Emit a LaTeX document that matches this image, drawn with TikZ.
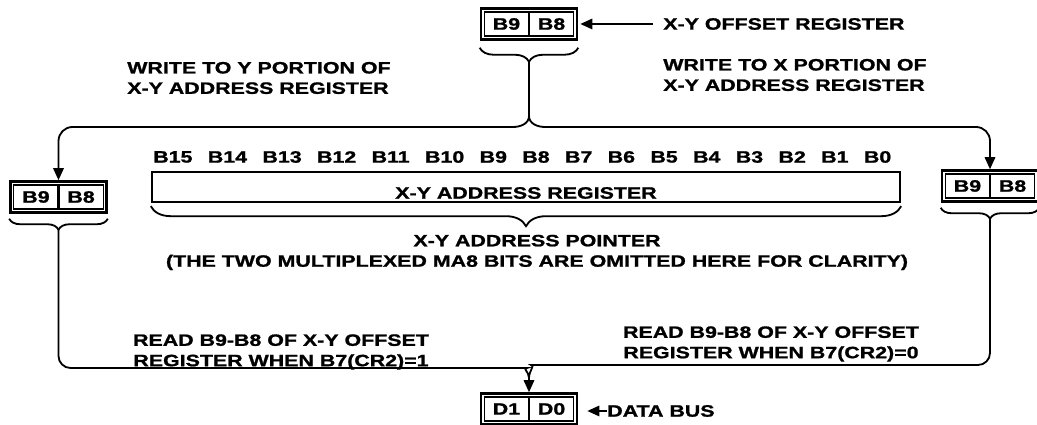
\documentclass[tikz,border=0pt]{standalone}
\usepackage{fontspec}
\newfontfamily\drawfont[FakeStretch=1.3,FakeBold=1.2]{Liberation Sans}
\usetikzlibrary{arrows.meta,positioning,fit,calc,decorations.pathreplacing}

% two bit cells in a heavy frame
\newcommand{\bitpair}[4]{%
  \node[cell,anchor=east] (#1l) at #2 {#3};
  \node[cell,anchor=west] (#1r) at #2 {#4};
  \node[frame,fit=(#1l)(#1r)] (#1) {};
}

\begin{document}
\begin{tikzpicture}[x=0.25mm,y=0.25mm,
  lbl/.style={font=\drawfont\bfseries\fontsize{11.7}{14.5}\selectfont,inner sep=0pt},
  cell/.style={lbl,draw,line width=0.8pt,minimum width=11mm,minimum height=6mm},
  frame/.style={draw,line width=1.7pt,inner sep=0.75mm},
  wire/.style={line width=1.3pt},
  arr/.style={wire,-{Triangle[length=3mm,width=2.6mm]}},
  brace/.style={wire,decorate,decoration={brace,amplitude=#1}}]
  \useasboundingbox (0,0) rectangle (1037,425);

  \bitpair{off}{(529,401)}{B9}{B8}
  \bitpair{lpair}{(58.5,228)}{B9}{B8}
  \bitpair{rpair}{(990,239)}{B9}{B8}
  \bitpair{dpair}{(529,16)}{D1}{D0}

  \draw[brace=3.5mm] ([yshift=-1.75mm]off.south east) -- ([yshift=-1.75mm]off.south west);
  \draw[brace=2.75mm] ([yshift=-1.25mm]lpair.south east) -- ([yshift=-1.25mm]lpair.south west);
  \draw[brace=2.75mm] ([yshift=-1.25mm]rpair.south east) -- ([yshift=-1.25mm]rpair.south west);
  \coordinate (offtip) at ([yshift=-5.25mm]off.south);
  \coordinate (ltip) at ([yshift=-4mm]lpair.south);
  \coordinate (rtip) at ([yshift=-4mm]rpair.south);

  % address register
  \node[frame,inner sep=0pt,minimum width=187mm,minimum height=7.5mm] (reg) at (526,238) {};
  \node[lbl] (regtxt) at ([yshift=-1.5mm]reg.center) {X-Y ADDRESS REGISTER};
  \draw[brace=5mm] ([yshift=-0.75mm]reg.south east) -- ([yshift=-0.75mm]reg.south west);
  \node[lbl,anchor=west] (b15) at (153,268) {B15};
  \foreach \i [remember=\i as \j (initially 15)] in {14,...,0}
    \node[lbl,right=3.7mm of b\j] (b\i) {B\i};

  \node[lbl,anchor=west] (offlbl) at (663,401) {X-Y OFFSET REGISTER};
  \draw[arr] ([xshift=-2.5mm]offlbl.west) -- ($(offlbl.west -| off.east)+(0.5mm,0)$);
  \node[lbl,align=left,anchor=west] (wy) at (127,347) {WRITE TO Y PORTION OF\\X-Y ADDRESS REGISTER};
  \node[lbl,align=left,anchor=west] (wx) at (663,350) {WRITE TO X PORTION OF\\X-Y ADDRESS REGISTER};
  \node[lbl,align=center] (ptr) at (537,172.5) {X-Y ADDRESS POINTER\\(THE TWO MULTIPLEXED MA8 BITS ARE OMITTED HERE FOR CLARITY)};
  \node[lbl,align=center] (rd1) at (281,73) {READ B9-B8 OF X-Y OFFSET\\REGISTER WHEN B7(CR2)=1};
  \node[lbl,align=center] (rd0) at (771,81) {READ B9-B8 OF X-Y OFFSET\\REGISTER WHEN B7(CR2)=0};

  % write paths
  \coordinate (split) at (529,309);
  \draw[arr] (offtip) -- (split) to[out=-90,in=0] ++(-16,-11) [rounded corners=3.5mm] -| (lpair.north);
  \draw[arr] (split) to[out=-90,in=180] ++(16,-11) [rounded corners=3.5mm] -| (rpair.north);

  % read paths
  \coordinate (merge) at (529,47);
  \draw[wire] (ltip) [rounded corners=3mm] |- (515,57) [sharp corners] to[out=0,in=90] (merge);
  \draw[wire] (rtip) [rounded corners=3mm] |- (543,60) [sharp corners] to[out=180,in=90] (merge);
  \draw[arr] (merge) -- (dpair.north);

  \node[lbl,anchor=west] (buslbl) at (607,14) {DATA BUS};
  \draw[arr] (buslbl.west) -- ($(buslbl.west -| dpair.east)+(2.25mm,0)$);
\end{tikzpicture}
\end{document}
